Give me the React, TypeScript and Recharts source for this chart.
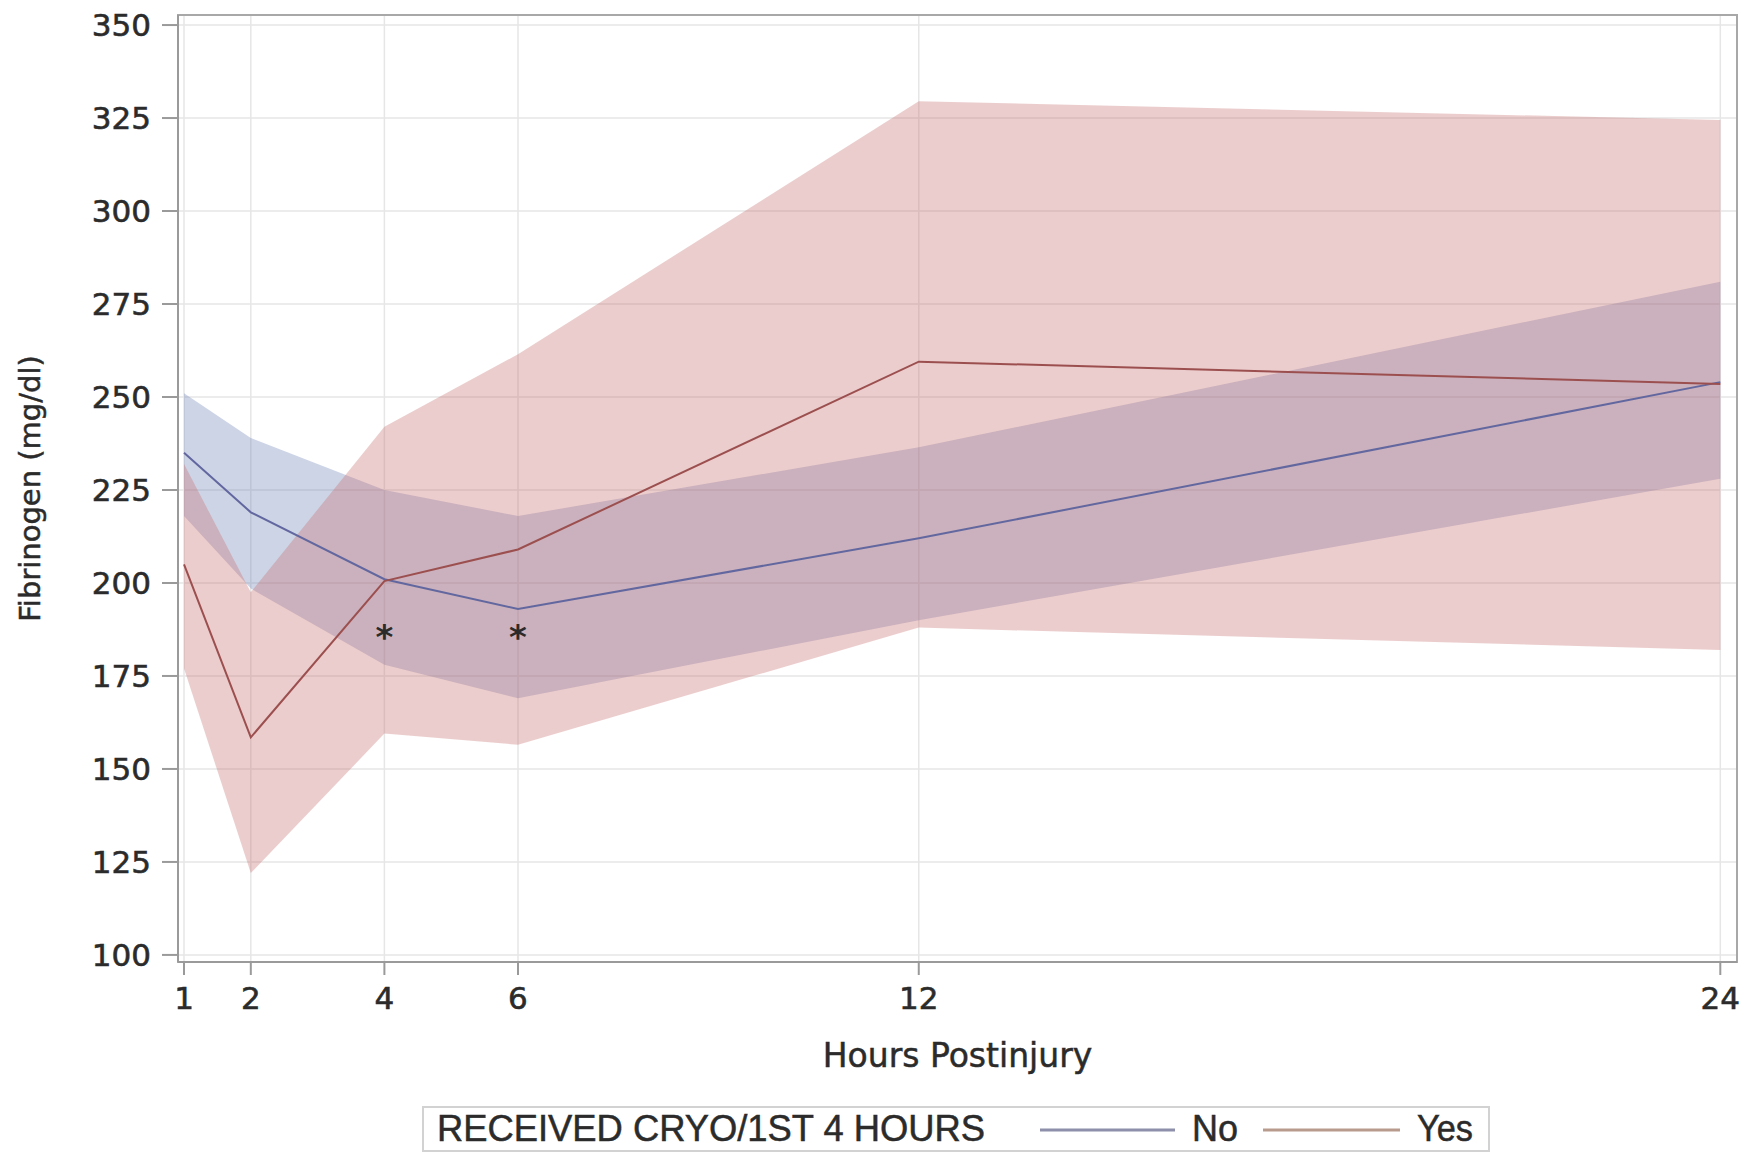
import React from "react";
import {
  ComposedChart,
  Area,
  Line,
  Scatter,
  XAxis,
  YAxis,
  CartesianGrid,
  ReferenceArea,
} from "recharts";

// hours postinjury and fibrinogen (mg/dl)
const hours = [1, 2, 4, 6, 12, 24];
const noMean = [235, 219, 201, 193, 212, 254];
const noLower = [218, 198.5, 178, 169, 190, 228];
const noUpper = [251, 239, 225, 218, 236.5, 281];
const yesMean = [205, 158.5, 200.5, 209, 259.5, 253.5];
const yesLower = [177, 122, 159.5, 156.5, 188, 182];
const yesUpper = [232, 197.5, 242, 261.5, 329.5, 324.5];

const xTicks = [1, 2, 4, 6, 12, 24];
const yTicks = [100, 125, 150, 175, 200, 225, 250, 275, 300, 325, 350];
const starHours = [4, 6];
const starLevel = 186;

const X_DOMAIN: [number, number] = [0.91, 24.25];
const Y_DOMAIN: [number, number] = [98.1, 352.7];

const NO_LINE = "#62679f";
const YES_LINE = "#9c4f4f";
const NO_FILL = "#7084b8";
const YES_FILL = "#c97070";
const INK = "#2b2b2b";

const rows = hours.map((h, i) => ({
  hour: h,
  noMean: noMean[i],
  noBand: [noLower[i], noUpper[i]],
  yesMean: yesMean[i],
  yesBand: [yesLower[i], yesUpper[i]],
}));

const stars = starHours.map((h) => ({ hour: h, level: starLevel }));

const tickStyle = {
  fontFamily: "DejaVu Sans",
  fontSize: 31,
  fill: INK,
  stroke: INK,
  strokeWidth: 0.6,
};

const Star = (props: any) => (
  <text
    x={props.cx}
    y={props.cy + 14}
    textAnchor="middle"
    fontFamily="DejaVu Sans"
    fontWeight="bold"
    fontSize={34}
    fill={INK}
  >
    *
  </text>
);

const YTitle = (props: any) => {
  const vb = props.viewBox;
  const cy = vb.y + vb.height / 2;
  return (
    <text
      x={40}
      y={cy}
      transform={`rotate(-90, 40, ${cy})`}
      textAnchor="middle"
      fontFamily="DejaVu Sans"
      fontSize={29}
      fill={INK}
      stroke={INK}
      strokeWidth={0.5}
    >
      Fibrinogen (mg/dl)
    </text>
  );
};

function LegendBox() {
  const font = { fontFamily: "Liberation Sans", fontSize: 36, fill: INK, stroke: INK, strokeWidth: 0.5 };
  return (
    <svg width={1070} height={47} style={{ position: "absolute", left: 422, top: 1106 }}>
      <rect x={1} y={1} width={1066} height={44} fill="#fff" stroke="#d2d2d2" strokeWidth={2} />
      <text x={15} y={35} {...font} textLength={548} lengthAdjust="spacingAndGlyphs">
        RECEIVED CRYO/1ST 4 HOURS
      </text>
      <line x1={618} x2={753} y1={24} y2={24} stroke="#8e90ab" strokeWidth={3} />
      <text x={770} y={35} {...font}>
        No
      </text>
      <line x1={841} x2={978} y1={24} y2={24} stroke="#b99b8e" strokeWidth={3} />
      <text x={995} y={35} {...font} textLength={56} lengthAdjust="spacingAndGlyphs">
        Yes
      </text>
    </svg>
  );
}

export default function App() {
  return (
    <div style={{ position: "relative", width: 1742, height: 1153, background: "#fff" }}>
      <style>{"body{margin:0}"}</style>
      <ComposedChart
        width={1742}
        height={1100}
        data={rows}
        margin={{ top: 15, right: 5, left: 0, bottom: 28 }}
      >
        <CartesianGrid stroke="#e6e6e6" strokeWidth={1.5} />
        <XAxis
          dataKey="hour"
          type="number"
          domain={X_DOMAIN}
          ticks={xTicks}
          allowDataOverflow
          height={110}
          tick={tickStyle}
          tickSize={13}
          tickMargin={12}
          axisLine={{ stroke: "#9a9a9a", strokeWidth: 2 }}
          tickLine={{ stroke: "#9a9a9a", strokeWidth: 2 }}
          label={{
            value: "Hours Postinjury",
            position: "insideBottom",
            offset: 5,
            style: {
              fontFamily: "DejaVu Sans",
              fontSize: 33,
              fill: INK,
              stroke: INK,
              strokeWidth: 0.5,
            },
          }}
        />
        <YAxis
          type="number"
          domain={Y_DOMAIN}
          ticks={yTicks}
          allowDataOverflow
          width={178}
          tick={tickStyle}
          tickSize={16}
          tickMargin={11}
          axisLine={{ stroke: "#9a9a9a", strokeWidth: 2 }}
          tickLine={{ stroke: "#9a9a9a", strokeWidth: 2 }}
          label={{ content: YTitle }}
        />
        <Area
          type="linear"
          dataKey="noBand"
          stroke="none"
          fill={NO_FILL}
          fillOpacity={0.35}
          isAnimationActive={false}
        />
        <Area
          type="linear"
          dataKey="yesBand"
          stroke="none"
          fill={YES_FILL}
          fillOpacity={0.35}
          isAnimationActive={false}
        />
        <Line
          type="linear"
          dataKey="noMean"
          stroke={NO_LINE}
          strokeWidth={2}
          dot={false}
          isAnimationActive={false}
        />
        <Line
          type="linear"
          dataKey="yesMean"
          stroke={YES_LINE}
          strokeWidth={2}
          dot={false}
          isAnimationActive={false}
        />
        <Scatter data={stars} dataKey="level" shape={Star} isAnimationActive={false} />
        <ReferenceArea
          x1={X_DOMAIN[0]}
          x2={X_DOMAIN[1]}
          y1={Y_DOMAIN[0]}
          y2={Y_DOMAIN[1]}
          fill="none"
          stroke="#a8a8a8"
          strokeWidth={2}
        />
      </ComposedChart>
      <LegendBox />
    </div>
  );
}
